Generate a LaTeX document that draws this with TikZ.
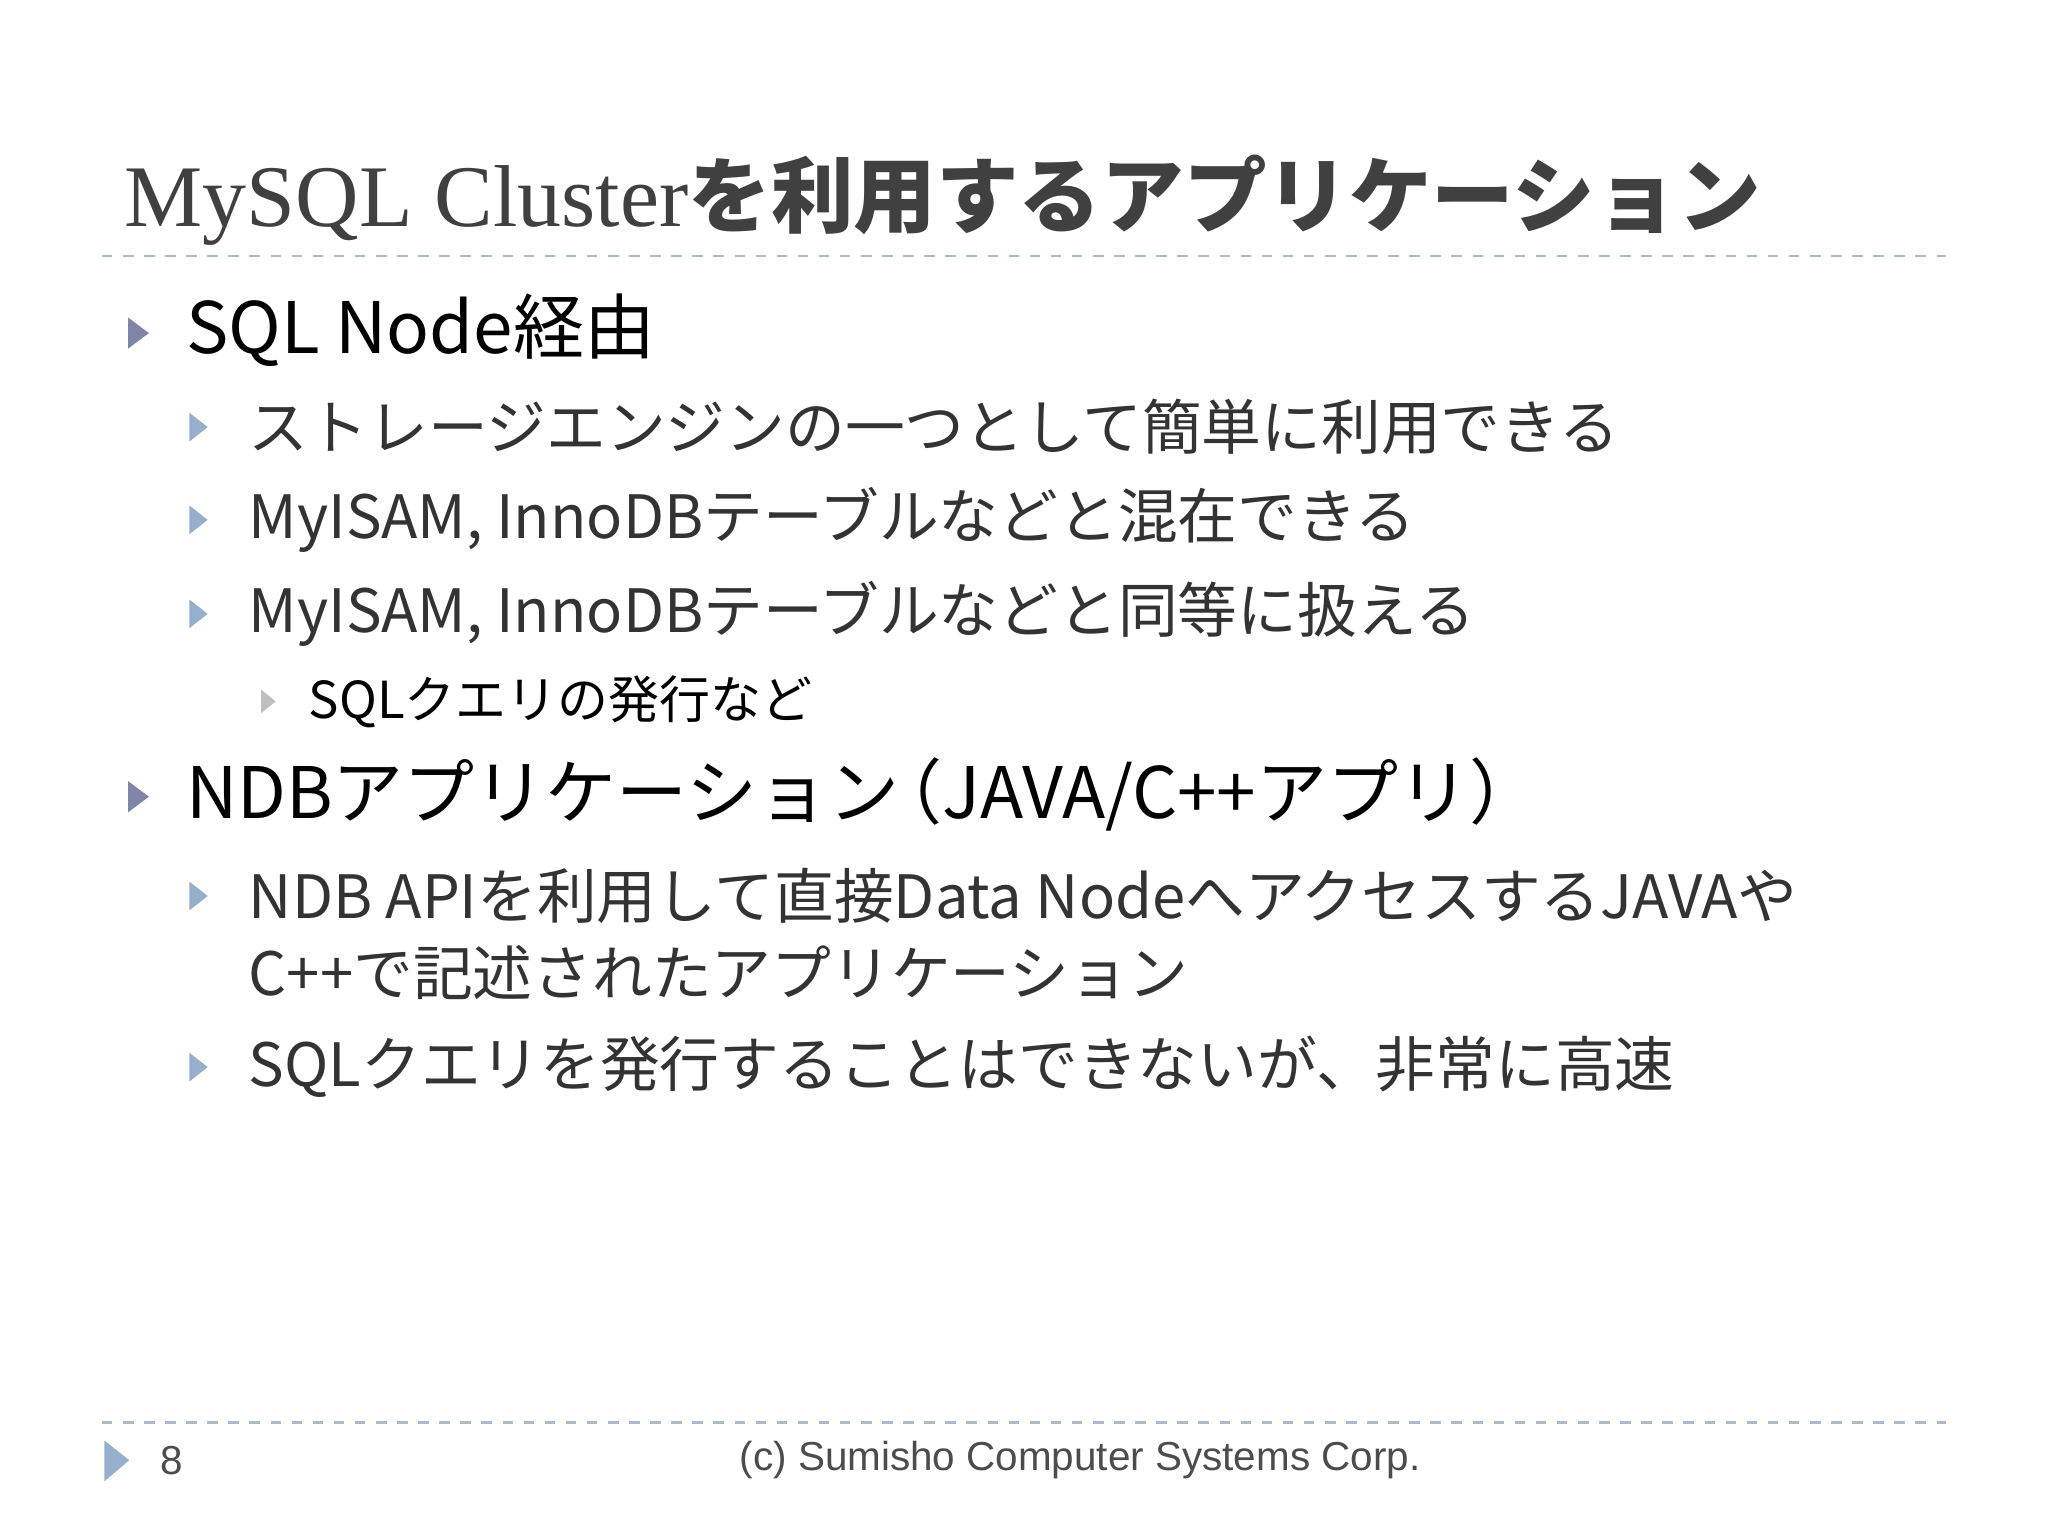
\documentclass[tikz,border=0pt]{standalone}
\usepackage{fontspec}
\setmainfont{Liberation Serif}
\newfontfamily\jp{Noto Sans CJK JP}
\newfontfamily\lib{Liberation Sans}
\definecolor{tri}{RGB}{128,134,168}
\definecolor{tril}{RGB}{150,175,205}
\definecolor{dashc}{RGB}{175,185,200}
\begin{document}
\begin{tikzpicture}[x=0.01306cm,y=-0.01306cm,
  bul/.style={fill=tri,draw=none},
  l1/.style={anchor=west,inner sep=0,font=\jp\fontsize{20.2}{24}\selectfont},
  l2/.style={anchor=west,inner sep=0,font=\jp\fontsize{17}{22}\selectfont,text=black!80},
  l3/.style={anchor=west,inner sep=0,font=\jp\fontsize{14.5}{18}\selectfont}]
\fill[white] (0,0) rectangle (1568,1176);
\useasboundingbox (0,0) rectangle (1568,1176);
\node[anchor=west,inner sep=0,text=black!75] (title) at (95,153)
 {\fontsize{25}{28}\selectfont MySQL Cluster{\jp\bfseries\fontsize{23.5}{28}\selectfont を利用するアプリケーション}};
\draw[dashc,dashed,line width=0.8pt] (78,196) -- (1490,196);
\draw[dashc,dashed,line width=0.8pt] (78,1089) -- (1490,1089);
\foreach \y in {255,610} \fill[bul] (98,\y-12) -- (114,\y) -- (98,\y+12) -- cycle;
\foreach \y in {327,398,470,686,817} \fill[tril] (145,\y-11) -- (159,\y) -- (145,\y+11) -- cycle;
\fill[black!25] (200,537-9) -- (211,537) -- (200,537+9) -- cycle;
\node[l1] (a) at (142,253) {SQL Node経由};
\node[l2] (a1) at (190,327) {ストレージエンジンの一つとして簡単に利用できる};
\node[l2] (a2) at (190,398) {MyISAM, InnoDBテーブルなどと混在できる};
\node[l2] (a3) at (190,470) {MyISAM, InnoDBテーブルなどと同等に扱える};
\node[l3] (a4) at (236,537) {SQLクエリの発行など};
\node[l1] (b) at (142,608) {NDBアプリケーション\kern-0.4em（JAVA/C++アプリ）};
\node[l2] (b1) at (190,686) {NDB APIを利用して直接Data NodeへアクセスするJAVAや};
\node[l2] (b1b) at (190,745) {C++で記述されたアプリケーション};
\node[l2] (b2) at (190,817) {SQLクエリを発行することはできないが、非常に高速};
\fill[tril] (80,1103) -- (99,1118) -- (80,1134) -- cycle;
\node[anchor=west,inner sep=0,font=\lib\fontsize{11.5}{14}\selectfont,text=black!70] (pg) at (122,1118) {8};
\node[inner sep=0,font=\lib\fontsize{11.5}{14}\selectfont,text=black!70] (ft) at (827,1118) {(c) Sumisho Computer Systems Corp.};
\end{tikzpicture}
\end{document}
